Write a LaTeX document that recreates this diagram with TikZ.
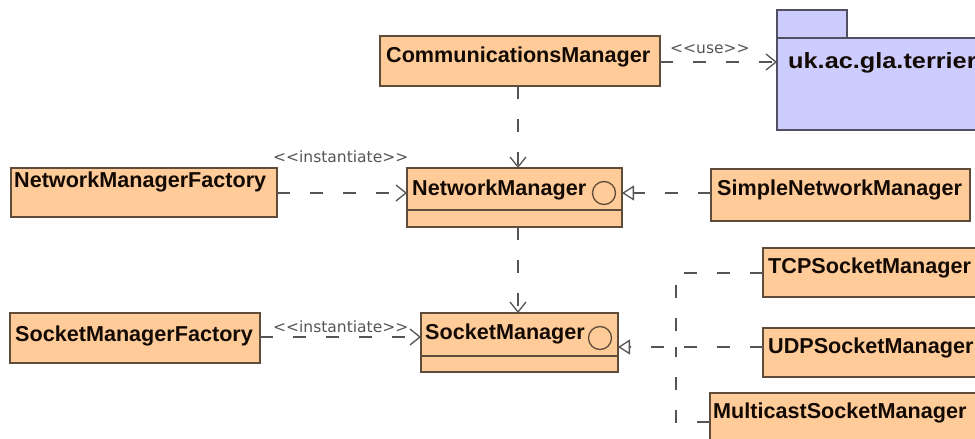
\documentclass[tikz,border=0pt]{standalone}
\usepackage{fontspec}
\setmainfont{Liberation Sans}
\newfontfamily\stereofont{DejaVu Sans}
\usetikzlibrary{arrows.meta}
\definecolor{boxfill}{HTML}{FFCC99}
\definecolor{boxline}{HTML}{5E4B38}
\definecolor{pkgfill}{HTML}{CCCCFF}
\definecolor{pkgline}{HTML}{505060}
\definecolor{conn}{HTML}{555555}
\definecolor{txt}{HTML}{140A04}
\begin{document}
\begin{tikzpicture}[x=1pt,y=-1pt,
  cls/.style={draw=boxline, fill=boxfill, line width=1.4pt, inner sep=0pt, outer sep=0pt, anchor=north west},
  pkgbox/.style={draw=pkgline, fill=pkgfill, line width=1.4pt, inner sep=0pt, outer sep=0pt, anchor=north west},
  clsname/.style={anchor=base west, inner sep=0pt, font=\fontsize{21.6}{22}\selectfont\bfseries, text=txt},
  stereo/.style={anchor=base west, inner sep=0pt, font=\stereofont\fontsize{15.5}{16}\selectfont, text=conn},
  dep/.style={draw=conn, line width=1.2pt, dash pattern=on 13pt off 20pt, -{Straight Barb[length=10pt,width=16pt,line width=1.3pt]}},
  real/.style={draw=conn, line width=1.2pt, dash pattern=on 13pt off 20pt, -{Triangle[open,fill=white,length=12pt,width=15pt,line width=1.3pt]}},
  tree/.style={draw=conn, line width=1.2pt, dash pattern=on 13pt off 20pt},
  iface/.style={circle, draw=boxline, line width=1.3pt, minimum size=23pt, inner sep=0pt},
  sep/.style={draw=boxline, line width=1.4pt}
]
\useasboundingbox (0,0) rectangle (975,439);
\clip (0,0) rectangle (975,439);
\fill[white] (0,0) rectangle (975,439);

% package
\node[pkgbox, minimum width=70pt, minimum height=28pt] (tab) at (777,10) {};
\node[pkgbox, minimum width=220pt, minimum height=92pt] (pkg) at (777,38) {};
\node[anchor=base west, inner sep=0pt, font=\fontsize{22}{22}\selectfont\bfseries, text=txt] (pkgt) at (788,68) {\scalebox{1.15}[1]{uk.ac.gla.terrier}};

% classes
\node[cls, minimum width=280pt, minimum height=50pt] (cm) at (380,36) {};
\node[clsname] (cmt) at (386,62) {CommunicationsManager};

\node[cls, minimum width=266pt, minimum height=49pt] (nmf) at (11,168) {};
\node[clsname] (nmft) at (14,187) {NetworkManagerFactory};

\node[cls, minimum width=215pt, minimum height=59pt] (nm) at (407,168) {};
\draw[sep] (407,210) -- (622,210);
\node[clsname] (nmt) at (412,195) {NetworkManager};
\node[iface] (nmi) at (604,193) {};

\node[cls, minimum width=259pt, minimum height=52pt] (snm) at (711,169) {};
\node[clsname] (snmt) at (717,195) {SimpleNetworkManager};

\node[cls, minimum width=250pt, minimum height=50pt] (smf) at (10,313) {};
\node[clsname] (smft) at (15,341) {SocketManagerFactory};

\node[cls, minimum width=197pt, minimum height=59pt] (sm) at (421,313) {};
\draw[sep] (421,356) -- (618,356);
\node[clsname] (smt) at (425,339) {SocketManager};
\node[iface] (smi) at (600,338) {};

\node[cls, minimum width=240pt, minimum height=49pt] (tcp) at (763,248) {};
\node[clsname] (tcpt) at (768,273) {TCPSocketManager};

\node[cls, minimum width=240pt, minimum height=49pt] (udp) at (763,328) {};
\node[clsname] (udpt) at (768,353) {UDPSocketManager};

\node[cls, minimum width=290pt, minimum height=60pt] (msm) at (710,393) {};
\node[clsname] (msmt) at (713,418) {MulticastSocketManager};

% connectors
\draw[dep] (cm.east |- 0,62) -- (pkg.west |- 0,62);
\node[stereo] (use) at (670,53) {<<use>>};

\draw[dep] (cm.south -| 518,0) -- (nm.north -| 518,0);
\draw[dep] (nm.south -| 518,0) -- (sm.north -| 518,0);

\draw[dep] (nmf.east |- 0,193) -- (nm.west |- 0,193);
\node[stereo] (inst1) at (273,162) {<<instantiate>>};

\draw[dep] (smf.east |- 0,337) -- (sm.west |- 0,337);
\node[stereo] (inst2) at (273,332) {<<instantiate>>};

\draw[real] (snm.west |- 0,193) -- (nm.east |- 0,193);
\draw[real] (udp.west |- 0,347) -- (sm.east |- 0,347);
\coordinate (j) at (676,347);
\draw[tree] (tcp.west |- 0,273) -| (j);
\draw[tree] (msm.west |- 0,422) -| (j);
\end{tikzpicture}
\end{document}
